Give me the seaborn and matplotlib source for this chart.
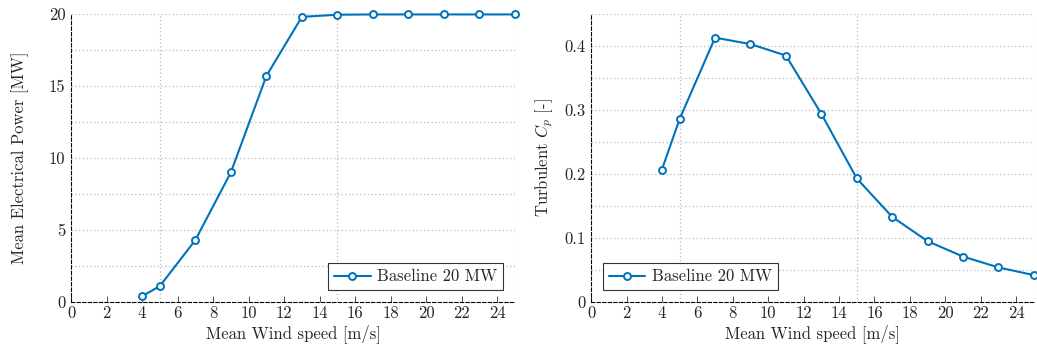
import matplotlib
matplotlib.use("Agg")
import matplotlib.pyplot as plt
import seaborn as sns
import pandas as pd
from matplotlib.ticker import MultipleLocator, FuncFormatter

wind_speed = [4, 5, 7, 9, 11, 13, 15, 17, 19, 21, 23, 25]
power_mw = [0.4, 1.1, 4.3, 9.0, 15.7, 19.8, 19.95, 19.97, 19.97, 19.97, 19.97, 19.97]
cp_turb = [0.207, 0.286, 0.413, 0.403, 0.385, 0.294, 0.193, 0.133, 0.095, 0.071, 0.054, 0.042]
series_label = "Baseline 20 MW"

sns.set_theme(style="white")
plt.rcParams['font.family'] = ['cmr10', 'DejaVu Serif']
plt.rcParams['mathtext.fontset'] = 'cm'
plt.rcParams['axes.formatter.use_mathtext'] = True

color = "#0072BD"
df = pd.DataFrame({"ws": wind_speed, "P": power_mw, "Cp": cp_turb, "s": series_label})

fig = plt.figure(figsize=(10.37, 3.49), dpi=100)
ax1 = fig.add_axes([0.0685, 0.1347, 0.4281, 0.8252])
ax2 = fig.add_axes([0.5700, 0.1347, 0.4270, 0.8252])

FS = 12

def style(ax, ymax, ymajor, yminor, ylabel, lpad):
    ax.set_xlim(0, 25)
    ax.set_ylim(0, ymax)
    ax.xaxis.set_major_locator(MultipleLocator(2))
    ax.xaxis.set_minor_locator(MultipleLocator(5))
    ax.yaxis.set_major_locator(MultipleLocator(ymajor))
    ax.yaxis.set_minor_locator(MultipleLocator(yminor))
    ax.grid(False)
    gkw = dict(color='#b8b8b8', linestyle=(0, (1, 2)), linewidth=0.9)
    ax.grid(True, which='minor', axis='x', **gkw)
    ax.grid(True, which='both', axis='y', **gkw)
    ax.set_axisbelow(True)
    ax.tick_params(axis='x', which='major', direction='in', length=4, width=0.6, color='#333333',
                   labelsize=FS, pad=3, bottom=True)
    ax.tick_params(axis='x', which='minor', length=0)
    ax.tick_params(axis='y', which='major', direction='in', length=0, labelsize=FS, pad=4, left=True)
    ax.tick_params(axis='y', which='minor', length=0)
    for s in ['top', 'right']:
        ax.spines[s].set_visible(False)
    for s in ['left', 'bottom']:
        ax.spines[s].set_linestyle((0, (3, 2)))
        ax.spines[s].set_color('black')
        ax.spines[s].set_linewidth(0.8)
    ax.set_xlabel("Mean Wind speed [m/s]", fontsize=FS, labelpad=2)
    ax.set_ylabel(ylabel, fontsize=FS, labelpad=lpad)
    ax.xaxis.set_major_formatter(FuncFormatter(lambda v, p: f"{v:g}"))
    ax.yaxis.set_major_formatter(FuncFormatter(lambda v, p: f"{v:g}"))

kw = dict(color=color, marker='o', markersize=5, markerfacecolor='white',
          markeredgecolor=color, markeredgewidth=1.4, linewidth=1.5, clip_on=False)
sns.lineplot(data=df, x="ws", y="P", ax=ax1, label=series_label, **kw)
sns.lineplot(data=df, x="ws", y="Cp", ax=ax2, label=series_label, **kw)

style(ax1, 20, 5, 2.5, "Mean Electrical Power [MW]", 14)
style(ax2, 0.45, 0.1, 0.05, r"Turbulent $C_p$ [-]", 7)

for ax, loc in [(ax1, 'lower right'), (ax2, 'lower left')]:
    leg = ax.legend(loc=loc, fontsize=FS, frameon=True, fancybox=False, framealpha=1,
                    edgecolor='#333333', handlelength=2.2, handletextpad=0.4,
                    borderpad=0.35, borderaxespad=0.7)
    leg.get_frame().set_linewidth(0.8)

fig.savefig("out.png", dpi=100)
